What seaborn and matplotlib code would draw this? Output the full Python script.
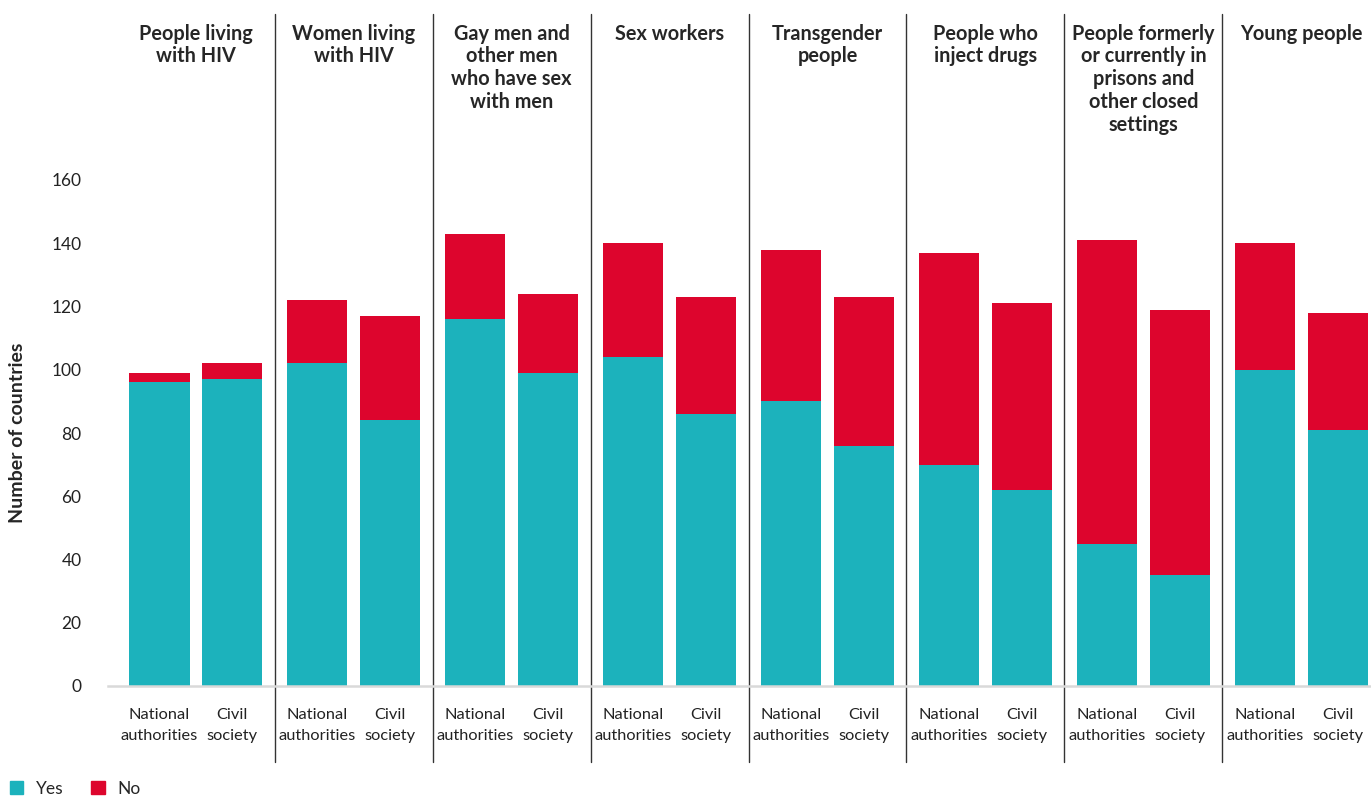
import pandas as pd
import numpy as np
import matplotlib.pyplot as plt
import seaborn as sns
from matplotlib.patches import Patch

groups = ['People living\nwith HIV', 'Women living\nwith HIV',
          'Gay men and\nother men\nwho have sex\nwith men', 'Sex workers',
          'Transgender\npeople', 'People who\ninject drugs',
          'People formerly\nor currently in\nprisons and\nother closed\nsettings',
          'Young people']
sources = ['National\nauthorities', 'Civil\nsociety']

na_yes = [96, 102, 116, 104, 90, 70, 45, 100]
na_no = [3, 20, 27, 36, 48, 67, 96, 40]
cs_yes = [97, 84, 99, 86, 76, 62, 35, 81]
cs_no = [5, 33, 25, 37, 47, 59, 84, 37]

teal = '#1cb2bc'
red = '#dd052d'

df = pd.DataFrame({
    'group': groups * 2,
    'source': [sources[0]] * 8 + [sources[1]] * 8,
    'yes': na_yes + cs_yes,
    'no': na_no + cs_no,
})
df['total'] = df['yes'] + df['no']

sns.set_style('white')
plt.rcParams['font.family'] = ['Lato', 'DejaVu Sans']

fig = plt.figure(figsize=(13.71, 7.96), dpi=100)
ax = fig.add_axes([108 / 1371, 110 / 796, 1263 / 1371, 506 / 796])

# stacked look: total (No) behind, Yes on top
for col, colour in [('total', red), ('yes', teal)]:
    sns.barplot(df, x='group', y=col, hue='source', hue_order=sources,
                order=groups, palette=[colour, colour], saturation=1,
                width=0.924, gap=0.165, errorbar=None, legend=False,
                linewidth=0, ax=ax)

ax.set_xlim(-0.554, 7.44)
ax.set_ylim(0, 160)
ax.set_yticks(range(0, 161, 20))
ax.tick_params(axis='y', length=0, pad=19, labelsize=12.5, labelcolor='#222222')
ax.set_ylabel('Number of countries', fontsize=14, fontweight='bold')
ax.yaxis.set_label_coords(-82 / 1263, 0.5)

pos = []
labs = []
for g in range(len(groups)):
    pos += [g - 0.231, g + 0.231]
    labs += sources
ax.set_xticks(pos)
ax.set_xticklabels(labs, fontsize=11.8, color='#222222', linespacing=1.6)
ax.tick_params(axis='x', length=0, pad=16)
ax.set_xlabel('')

sns.despine(ax=ax, left=True, right=True, top=True)
ax.spines['bottom'].set_color('#d9d9d9')
ax.spines['bottom'].set_linewidth(1.8)

for g, name in enumerate(groups):
    ax.text(g, 1.309, name, transform=ax.get_xaxis_transform(), ha='center',
            va='top', fontsize=14.3, fontweight='bold', linespacing=1.17)
    if g < len(groups) - 1:
        ax.plot([g + 0.5, g + 0.5], [-0.150, 1.328], color='#333333', lw=1,
                transform=ax.get_xaxis_transform(), clip_on=False)

handles = [Patch(color=teal), Patch(color=red)]
fig.legend(handles, ['Yes', 'No'], loc='upper left', bbox_to_anchor=(0.007, 0.019),
           frameon=False, ncol=2, handlelength=0.8, handleheight=0.8,
           handletextpad=0.7, columnspacing=1.6, borderaxespad=0, borderpad=0,
           fontsize=12.5)

fig.savefig('out.png', dpi=100)
plt.close()
